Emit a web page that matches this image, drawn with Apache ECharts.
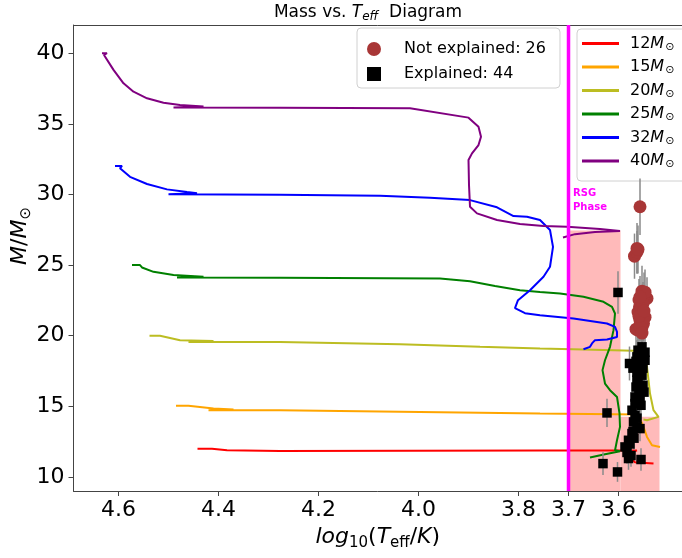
<!DOCTYPE html>
<html>
<head>
<meta charset="utf-8">
<title>Mass vs. Teff Diagram</title>
<script src="https://cdn.jsdelivr.net/npm/echarts@6/dist/echarts.min.js"></script>
<style>
  html, body { margin: 0; padding: 0; background: #fff; }
  #main { width: 682px; height: 558px; }
</style>
</head>
<body>
<div id="main"></div>
<script>
// ---- data ----
var xTicks = [4.6, 4.4, 4.2, 4.0, 3.8, 3.7, 3.6];
var yTicks = [10, 15, 20, 25, 30, 35, 40];

var trackNames = ['12', '15', '20', '25', '32', '40'];

var track12 = [[4.442,12.00],[4.413,12.00],[4.413,11.93],[4.383,11.89],[4.383,11.84],[4.277,11.84],
  [3.757,11.86],[3.563,11.86],[3.581,11.74],[3.575,11.32],[3.567,11.03],[3.530,10.94]];
var track15 = [[4.485,15.03],[4.460,15.03],[4.460,14.95],[4.410,14.84],[4.370,14.77],[4.420,14.72],
  [4.277,14.72],[4.037,14.61],[3.757,14.49],[3.560,14.42],[3.557,14.13],[3.550,13.54],[3.543,12.83],
  [3.533,12.24],[3.517,12.12]];
var track20 = [[4.538,19.99],[4.517,19.99],[4.517,19.87],[4.477,19.68],[4.410,19.63],[4.460,19.56],
  [4.277,19.56],[4.037,19.40],[3.877,19.22],[3.757,19.09],[3.670,19.02],[3.550,18.92],[3.547,18.50],
  [3.543,17.79],[3.540,16.85],[3.537,15.90],[3.530,14.72],[3.520,14.25],[3.543,14.01],[3.550,14.06]];
var track25 = [[4.573,25.00],[4.557,25.00],[4.553,24.83],[4.530,24.52],[4.490,24.29],[4.430,24.17],
  [4.483,24.12],[4.277,24.10],[3.957,24.04],[3.897,23.86],[3.847,23.51],[3.797,23.22],[3.757,23.10],
  [3.717,22.99],[3.670,22.75],[3.630,22.40],[3.613,22.04],[3.607,21.57],[3.610,20.39],[3.617,19.21],
  [3.627,18.26],[3.632,17.56],[3.627,16.61],[3.617,16.14],[3.603,15.66],[3.598,14.49],[3.597,13.54],
  [3.603,12.59],[3.607,11.88],[3.597,11.81],[3.627,11.60],[3.657,11.37]];
var track32 = [[4.607,32.02],[4.593,32.02],[4.597,31.85],[4.577,31.25],[4.543,30.74],[4.503,30.36],
  [4.463,30.17],[4.443,30.08],[4.500,30.01],[4.277,29.98],[4.077,29.91],[3.977,29.77],[3.897,29.60],
  [3.843,29.09],[3.810,28.47],[3.783,28.42],[3.757,28.19],[3.737,27.48],[3.731,26.29],[3.737,24.88],
  [3.750,24.17],[3.777,23.22],[3.801,22.51],[3.807,21.95],[3.787,21.59],[3.757,21.45],[3.690,21.22],
  [3.623,20.86],[3.607,20.62],[3.603,20.27],[3.603,19.91],[3.623,19.73],[3.647,19.68],[3.653,19.45],
  [3.657,19.21],[3.670,19.04]];
var track40 = [[4.633,40.00],[4.623,40.00],[4.629,39.88],[4.610,38.82],[4.590,37.87],[4.570,37.28],
  [4.543,36.81],[4.510,36.50],[4.477,36.34],[4.430,36.22],[4.490,36.16],[4.277,36.14],[4.017,36.10],
  [3.900,35.44],[3.880,34.80],[3.875,34.09],[3.880,33.50],[3.893,32.91],[3.900,32.44],[3.899,30.67],
  [3.897,29.13],[3.883,28.66],[3.843,28.19],[3.797,27.90],[3.750,27.76],[3.703,27.71],[3.637,27.55],
  [3.597,27.41],[3.647,27.34],[3.687,27.19],[3.711,26.95]];

// [logTeff, mass, mass error]
var notExplained = [[3.557,29.13,2.0],[3.563,26.18,1.8],[3.568,25.63,1.6],[3.563,25.92,1.5],[3.553,23.15,1.8],
  [3.543,22.64,1.5],[3.549,22.87,1.6],[3.558,22.04,1.5],[3.553,21.45,1.4],[3.561,21.67,1.6],[3.550,20.86,1.3],
  [3.557,21.10,1.5],[3.561,20.39,1.3],[3.553,20.60,1.4],[3.559,22.52,1.5],[3.547,21.31,1.4],[3.555,21.88,1.5],
  [3.565,20.46,1.2],[3.551,22.30,1.5],[3.557,20.67,1.3],[3.561,26.11,1.7],[3.547,23.08,1.6],[3.559,21.38,1.4],
  [3.553,20.18,1.2],[3.549,21.74,1.5],[3.557,22.73,1.5]];
var explained = [[3.601,23.06,1.5],[3.553,19.21,1.2],[3.547,18.83,1.2],[3.563,18.50,1.2],[3.578,18.03,1.2],
  [3.547,18.26,1.1],[3.557,17.91,1.1],[3.563,17.41,1.1],[3.553,17.20,1.1],[3.563,16.85,1.0],[3.551,16.49,1.0],
  [3.557,16.14,1.0],[3.567,15.66,1.0],[3.557,15.43,1.0],[3.567,15.19,1.0],[3.623,14.53,1.0],[3.570,13.89,0.9],
  [3.563,13.54,0.9],[3.557,13.42,0.9],[3.573,13.07,0.9],[3.580,12.59,0.8],[3.587,12.12,0.8],[3.580,11.30,0.8],
  [3.555,11.23,0.8],[3.631,10.94,0.8],[3.602,10.35,0.7],[3.561,18.97,1.2],[3.571,17.70,1.1],[3.561,16.99,1.1],
  [3.549,16.00,1.0],[3.573,14.72,1.0],[3.563,14.16,0.9],[3.569,12.74,0.8],[3.577,12.33,0.8],[3.557,17.41,1.1],
  [3.565,16.36,1.0],[3.559,15.78,1.0],[3.571,13.21,0.9],[3.583,11.73,0.8],[3.575,11.51,0.8],[3.565,18.18,1.1],
  [3.551,17.70,1.1],[3.567,14.37,0.9],[3.555,15.07,1.0]];

var rsgEdge = 3.7;
// shaded RSG phase region: [x from, x to, mass bottom, mass top]
var rsgRegion = [[3.7, 3.596, 9, 27.45], [3.596, 3.518, 9, 14.25]];

var legendPoints = ['Not explained: 26', 'Explained: 44'];

// ---- drawing ----
var colors = ['#ff0000', '#ffa500', '#bcbd22', '#008000', '#0000ff', '#800080'];
var tracks = [track12, track15, track20, track25, track32, track40];
var xMin = 3.473, xMax = 4.69;

var chart = echarts.init(document.getElementById('main'));

function errorBar(color) {
  return function (params, api) {
    var x = api.value(0), y = api.value(1), e = api.value(2);
    var p1 = api.coord([x, y + e]);
    var p2 = api.coord([x, y - e]);
    return {
      type: 'line',
      shape: { x1: p1[0], y1: p1[1], x2: p2[0], y2: p2[1] },
      style: { stroke: color, lineWidth: 1.5 }
    };
  };
}

var series = [];

series.push({
  type: 'custom',
  name: 'rsg',
  z: 1,
  silent: true,
  data: rsgRegion,
  encode: { x: [0, 1], y: [2, 3] },
  renderItem: function (params, api) {
    var a = api.coord([api.value(0), api.value(3)]);
    var b = api.coord([api.value(1), api.value(2)]);
    return {
      type: 'rect',
      shape: { x: a[0], y: a[1], width: b[0] - a[0], height: b[1] - a[1] },
      style: { fill: '#ffbaba' }
    };
  }
});

trackNames.forEach(function (n, i) {
  series.push({
    type: 'line',
    name: n,
    data: tracks[i],
    showSymbol: false,
    z: 2,
    color: colors[i],
    lineStyle: { width: 2, color: colors[i] }
  });
});

series.push({
  type: 'line',
  name: 'edge',
  data: [[rsgEdge, 9], [rsgEdge, 42]],
  showSymbol: false,
  z: 3,
  lineStyle: { width: 3.5, color: '#ff00ff' }
});

series.push({ type: 'custom', z: 4, silent: true, data: notExplained, renderItem: errorBar('#8a8a8a') });
series.push({ type: 'custom', z: 4, silent: true, data: explained, renderItem: errorBar('#8a8a8a') });

series.push({
  type: 'scatter',
  name: legendPoints[0],
  data: notExplained,
  symbol: 'circle',
  symbolSize: 13,
  z: 5,
  itemStyle: { color: '#a83636', opacity: 1 }
});
series.push({
  type: 'scatter',
  name: legendPoints[1],
  data: explained,
  symbol: 'rect',
  symbolSize: 9.5,
  z: 6,
  itemStyle: { color: '#000', opacity: 1 }
});

var italic22 = { fontFamily: 'DejaVu Sans', fontStyle: 'italic', fontSize: 22, color: '#000' };
var plain22 = { fontFamily: 'DejaVu Sans', fontSize: 22, color: '#000' };
var sub15 = { fontFamily: 'DejaVu Sans', fontSize: 15, color: '#000', padding: [12, 0, 0, 0] };

var option = {
  animation: false,
  backgroundColor: '#fff',
  textStyle: { fontFamily: 'DejaVu Sans' },
  grid: { left: 73.5, right: 0, top: 25, bottom: 67, show: false },
  xAxis: [{
    type: 'value',
    inverse: true,
    min: xMin,
    max: xMax,
    name: '{i|log}{s|10}{n|(}{i|T}{s|eff}{n|/}{i|K}{n|)}',
    nameLocation: 'middle',
    nameGap: 32,
    nameTextStyle: { rich: { i: italic22, n: plain22, s: sub15 } },
    axisLine: { show: true, lineStyle: { color: '#444', width: 1 } },
    axisTick: { show: true, length: 5, customValues: xTicks, lineStyle: { color: '#444' } },
    axisLabel: {
      customValues: xTicks,
      fontSize: 22, color: '#000', margin: 8, fontFamily: 'DejaVu Sans',
      formatter: function (v) { return v.toFixed(1); }
    },
    splitLine: { show: false }
  }, {
    type: 'value',
    position: 'top',
    inverse: true,
    min: xMin,
    max: xMax,
    axisLine: { show: true, lineStyle: { color: '#444', width: 1 } },
    axisTick: { show: false },
    axisLabel: { show: false },
    splitLine: { show: false }
  }],
  yAxis: {
    type: 'value',
    min: 9,
    max: 42,
    axisLine: { show: true, lineStyle: { color: '#444', width: 1 } },
    axisTick: { show: true, length: 5, customValues: yTicks, lineStyle: { color: '#444' } },
    axisLabel: {
      customValues: yTicks,
      fontSize: 22, color: '#000', margin: 9, fontFamily: 'DejaVu Sans'
    },
    splitLine: { show: false }
  },
  legend: [
    {
      data: legendPoints.map(function (n, i) { return { name: n, icon: i === 0 ? 'circle' : 'rect' }; }),
      orient: 'vertical',
      left: 357,
      top: 28,
      itemWidth: 14,
      itemHeight: 14,
      itemGap: 7,
      padding: [12, 14, 5, 10],
      backgroundColor: '#fff',
      borderColor: '#d0d0d0',
      borderWidth: 1,
      borderRadius: 4,
      textStyle: { fontFamily: 'DejaVu Sans', fontSize: 16, color: '#000', lineHeight: 18, padding: [0, 0, 0, 18] }
    },
    {
      data: trackNames,
      orient: 'vertical',
      left: 577,
      top: 29,
      icon: 'rect',
      itemWidth: 37,
      itemHeight: 3,
      itemGap: 6.5,
      padding: [6.5, 20, 11, 5],
      backgroundColor: '#fff',
      borderColor: '#d0d0d0',
      borderWidth: 1,
      borderRadius: 4,
      formatter: function (n) { return '{n|' + n + '}{m|M}{s|⊙}'; },
      textStyle: {
        padding: [0, 0, 0, 6],
        rich: {
          n: { fontFamily: 'DejaVu Sans', fontSize: 16, color: '#000' },
          m: { fontFamily: 'DejaVu Sans', fontStyle: 'italic', fontSize: 16, color: '#000' },
          s: { fontFamily: 'DejaVu Sans', fontSize: 11, color: '#000', padding: [7, 0, 0, 1] }
        }
      }
    }
  ],
  graphic: [
    {
      type: 'text',
      x: 368,
      y: 13,
      z: 100,
      style: {
        text: '{n|Mass vs. }{i|T}{s|eff}{n|  Diagram}',
        align: 'center',
        verticalAlign: 'middle',
        rich: {
          n: { fontFamily: 'DejaVu Sans', fontSize: 17, fill: '#000' },
          i: { fontFamily: 'DejaVu Sans', fontStyle: 'italic', fontSize: 17, fill: '#000' },
          s: { fontFamily: 'DejaVu Sans', fontStyle: 'italic', fontSize: 12, fill: '#000', padding: [8, 0, 0, 0] }
        }
      }
    },
    {
      type: 'text',
      x: 20,
      y: 236,
      rotation: Math.PI / 2,
      z: 100,
      style: {
        text: '{i|M}{n|/}{i|M}{s|⊙}',
        align: 'center',
        verticalAlign: 'middle',
        rich: {
          i: { fontFamily: 'DejaVu Sans', fontStyle: 'italic', fontSize: 22, fill: '#000' },
          n: { fontFamily: 'DejaVu Sans', fontSize: 22, fill: '#000' },
          s: { fontFamily: 'DejaVu Sans', fontSize: 15, fill: '#000', padding: [12, 0, 0, 0] }
        }
      }
    },
    {
      type: 'text',
      left: 573,
      top: 186,
      z: 100,
      style: {
        text: 'RSG\nPhase',
        fill: '#ff00ff',
        font: 'bold 10px "DejaVu Sans"',
        lineHeight: 14
      }
    }
  ],
  series: series
};

chart.setOption(option);
</script>
</body>
</html>
